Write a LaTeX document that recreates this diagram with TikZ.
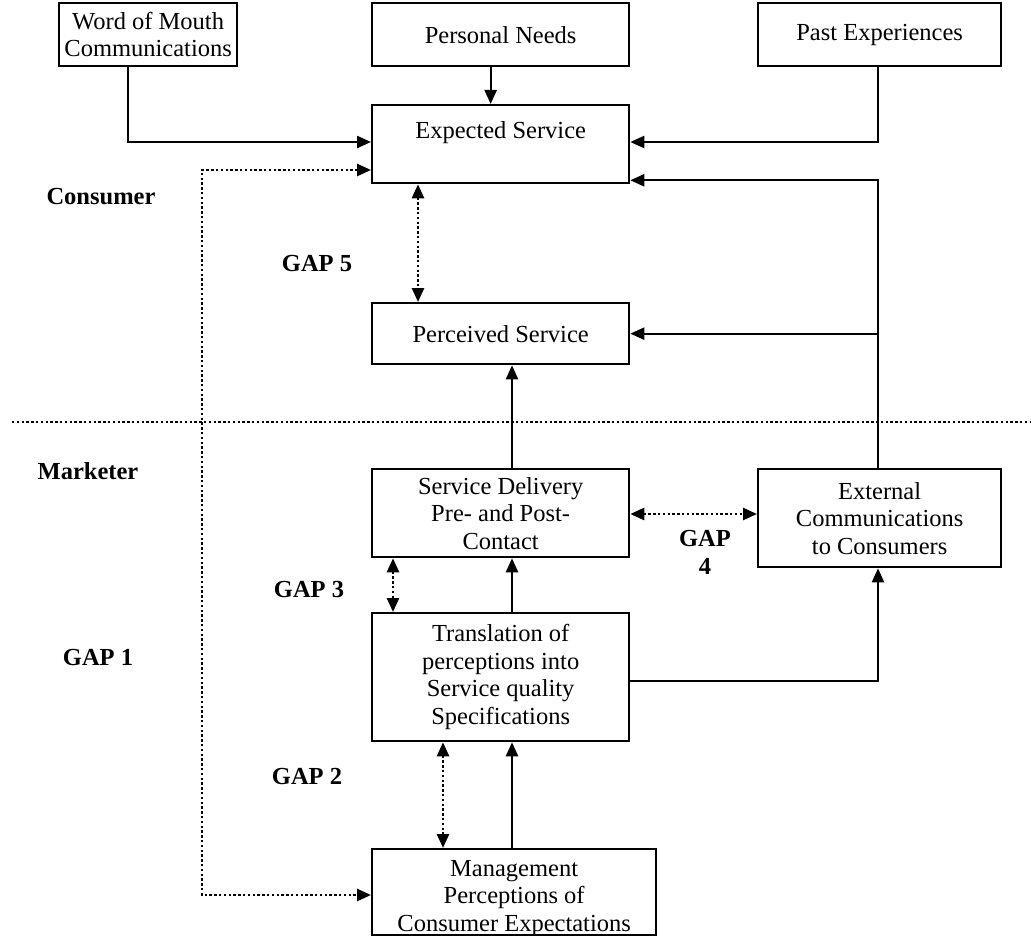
\documentclass[tikz,border=0pt]{standalone}
\usepackage{fontspec}
\setmainfont{Liberation Serif}
\usetikzlibrary{arrows.meta}
\begin{document}
\begin{tikzpicture}[x=1pt,y=-1pt,
  boxfont/.style={font=\fontsize{24.5}{27.5}\selectfont},
  box/.style={draw, line width=2.3pt, inner sep=0pt, align=center, anchor=north west, boxfont},
  flow/.style={line width=2.3pt, -{Triangle[length=14pt,width=12pt]}},
  gap/.style={line width=2.6pt, dash pattern=on 2.4pt off 2.4pt,
    {Triangle[length=14pt,width=12pt]}-{Triangle[length=14pt,width=12pt]}},
  divider/.style={line width=2.6pt, dash pattern=on 2.4pt off 2.4pt},
  lbl/.style={font=\bfseries\fontsize{24.5}{28}\selectfont, align=center}]
\useasboundingbox (0,0) rectangle (1031,936);

% boxes
\node[box, minimum width=178, minimum height=63] (wom) at (58,2) {Word of Mouth\\Communications};
\node[box, minimum width=257, minimum height=63] (pn) at (371,2) {Personal Needs};
\node[box, minimum width=243, minimum height=63] (pe) at (757,2) {Past Experiences};
\node[box, minimum width=257, minimum height=78, label={[yshift=12pt,boxfont]center:Expected Service}] (es) at (371,104) {};
\node[box, minimum width=257, minimum height=61] (ps) at (371,302) {Perceived Service};
\node[box, minimum width=257, minimum height=88] (sd) at (371,468) {Service Delivery\\Pre- and Post-\\Contact};
\node[box, minimum width=243, minimum height=98] (ext) at (757,468) {External\\Communications\\to Consumers};
\node[box, minimum width=257, minimum height=128] (tr) at (371,612) {Translation of\\perceptions into\\Service quality\\Specifications};
\node[box, minimum width=284, minimum height=86, label={[yshift=-6pt,boxfont,align=center]center:Management\\Perceptions of\\Consumer Expectations}] (mg) at (371,848) {};

% consumer / marketer divider
\draw[divider] (12,422) -- (1031,422);

% labels
\node[lbl] (consumer) at (101,197) {Consumer};
\node[lbl] (marketer) at (88,471) {Marketer};
\node[lbl] (g5) at (317,264) {GAP 5};
\node[lbl] (g4) at (705,552) {GAP\\4};
\node[lbl] (g3) at (309,590) {GAP 3};
\node[lbl] (g1) at (98,658) {GAP 1};
\node[lbl] (g2) at (307,777) {GAP 2};

% inputs to expected service
\draw[flow] ([xshift=-10pt]pn.south) -- ([xshift=-10pt]es.north);
\draw[flow] ([xshift=70pt]wom.south west) |- ([yshift=-38pt]es.north west);
\draw[flow] ([xshift=121pt]pe.south west) |- ([yshift=-38pt]es.north east);
\draw[flow] ([xshift=121pt]ext.north west) |- ([yshift=4pt]es.south east);
\draw[flow] ([xshift=121pt]ext.north west) |- (ps.east);

% service chain
\draw[flow] ([xshift=141pt]sd.north west) -- ([xshift=141pt]ps.south west);
\draw[flow] ([xshift=141pt]tr.north west) -- ([xshift=141pt]sd.south west);
\draw[flow] ([xshift=141pt]mg.north west) -- ([xshift=141pt]tr.south west);
\draw[flow] ([yshift=-4pt]tr.east) -| ([xshift=121pt]ext.south west);

% gaps
\draw[gap] ([yshift=-66pt]es.north west) -| (202,895) -- ([yshift=-47pt]mg.north west);
\draw[gap] ([xshift=47pt]es.south west) -- ([xshift=47pt]ps.north west);
\draw[gap] ([yshift=-46pt]sd.north east) -- ([yshift=-46pt]ext.north west);
\draw[gap] ([xshift=22pt]sd.south west) -- ([xshift=22pt]tr.north west);
\draw[gap] ([xshift=72pt]tr.south west) -- ([xshift=72pt]mg.north west);
\end{tikzpicture}
\end{document}
